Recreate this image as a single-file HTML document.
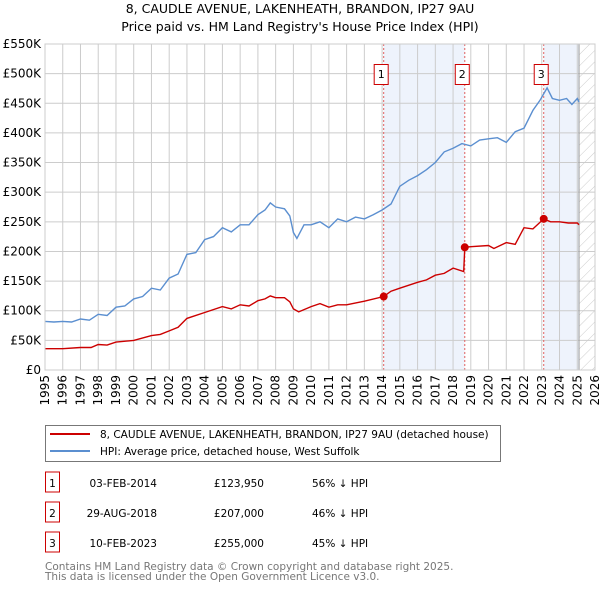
<!DOCTYPE html>
<html><head><meta charset="utf-8"><style>
body{margin:0;background:#fff;font-family:"DejaVu Sans","Liberation Sans",sans-serif;}
svg{display:block}
</style></head><body>
<svg id="c" width="600" height="590" xmlns="http://www.w3.org/2000/svg" font-family="DejaVu Sans, Liberation Sans, sans-serif">
<text x="300" y="13" text-anchor="middle" font-size="12.5">8, CAUDLE AVENUE, LAKENHEATH, BRANDON, IP27 9AU</text>
<text x="300" y="31" text-anchor="middle" font-size="12.5">Price paid vs. HM Land Registry's House Price Index (HPI)</text>
<g id="plot"></g>
<g>
<rect x="45.5" y="425.5" width="455" height="36" fill="#fff" stroke="#777"/>
<line x1="50" y1="434" x2="90" y2="434" stroke="#cc0000" stroke-width="2"/>
<text x="100" y="438" font-size="10.5">8, CAUDLE AVENUE, LAKENHEATH, BRANDON, IP27 9AU (detached house)</text>
<line x1="50" y1="451" x2="90" y2="451" stroke="#5b8fd0" stroke-width="2"/>
<text x="100" y="455" font-size="10.5">HPI: Average price, detached house, West Suffolk</text>
</g>
<g id="table" font-size="10.5"></g>
<text x="45" y="570" font-size="10.5" fill="#777">Contains HM Land Registry data © Crown copyright and database right 2025.</text>
<text x="45" y="580" font-size="10.5" fill="#777">This data is licensed under the Open Government Licence v3.0.</text>
</svg>
<script>
const hpiYears=[1995,1995.5,1996,1996.5,1997,1997.5,1998,1998.5,1999,1999.5,2000,2000.5,2001,2001.5,2002,2002.5,2003,2003.5,2004,2004.5,2005,2005.5,2006,2006.5,2007,2007.4,2007.7,2008,2008.5,2008.8,2009,2009.2,2009.6,2010,2010.5,2011,2011.5,2012,2012.5,2013,2013.5,2014,2014.5,2015,2015.5,2016,2016.5,2017,2017.5,2018,2018.5,2019,2019.5,2020,2020.5,2021,2021.5,2022,2022.5,2022.9,2023.3,2023.6,2024,2024.4,2024.7,2025,2025.1];
const hpiValues=[82,81,82,81,86,84,94,92,106,108,120,124,138,135,155,162,195,198,220,225,240,233,245,245,262,270,282,275,272,260,232,222,245,245,250,240,255,250,258,255,262,270,280,310,320,328,338,350,368,374,382,378,388,390,392,384,402,408,438,455,476,458,455,458,448,458,452];
const ppYears=[1995,1996,1997,1997.6,1998,1998.5,1999,2000,2001,2001.5,2002,2002.5,2003,2004,2005,2005.5,2006,2006.5,2007,2007.4,2007.7,2008,2008.5,2008.8,2009,2009.3,2009.7,2010,2010.5,2011,2011.5,2012,2013,2014.09,2014.5,2015,2016,2016.5,2017,2017.5,2018,2018.6,2018.66,2019,2020,2020.3,2021,2021.5,2022,2022.5,2023.11,2023.5,2024,2024.5,2025,2025.1];
const ppValues=[36,36,38,38,43,42,47,50,58,60,66,72,87,97,107,103,110,108,117,120,125,122,122,115,103,98,103,107,112,106,110,110,116,124,133,138,148,152,160,163,172,166,207,208,210,205,215,212,240,238,255,250,250,248,248,245];
const sales=[{n:"1",t:2014.09,v:123.95,d:"03-FEB-2014",p:"£123,950",h:"56% ↓ HPI"},{n:"2",t:2018.66,v:207,d:"29-AUG-2018",p:"£207,000",h:"46% ↓ HPI"},{n:"3",t:2023.11,v:255,d:"10-FEB-2023",p:"£255,000",h:"45% ↓ HPI"}];
const yTicks=[0,50,100,150,200,250,300,350,400,450,500,550];
const xTicks=[1995,1996,1997,1998,1999,2000,2001,2002,2003,2004,2005,2006,2007,2008,2009,2010,2011,2012,2013,2014,2015,2016,2017,2018,2019,2020,2021,2022,2023,2024,2025,2026];
const X0=45,X1=595,Y0=370,Y1=44;
const xs=t=>X0+(t-1995)/(2026-1995)*(X1-X0);
const ys=v=>Y0-v/550*(Y0-Y1);
const NS="http://www.w3.org/2000/svg";
const plot=document.getElementById('plot');
function mk(tag,attrs,parent){const e=document.createElementNS(NS,tag);for(const k in attrs)e.setAttribute(k,attrs[k]);(parent||plot).appendChild(e);return e;}
const s1=mk('rect',{x:xs(2014.09),y:Y1,width:xs(2018.66)-xs(2014.09),height:Y0-Y1,fill:'#eef3fc'});


const s2=mk('rect',{x:xs(2023.11),y:Y1,width:xs(2025.1)-xs(2023.11),height:Y0-Y1,fill:'#eef3fc'});


const defs=mk('defs',{});
const pat=mk('pattern',{id:'h',width:8,height:8,patternUnits:'userSpaceOnUse',patternTransform:'rotate(45)'},defs);
mk('line',{x1:0,y1:0,x2:0,y2:8,stroke:'#ccc','stroke-width':1},pat);
const hr=mk('rect',{x:xs(2025.1),y:Y1,width:X1-xs(2025.1),height:Y0-Y1,fill:'url(#h)'});


yTicks.forEach(v=>{
 mk('line',{x1:X0,x2:X1,y1:ys(v),y2:ys(v),stroke:'#ccc'});
 const t=mk('text',{x:X0-4,y:ys(v)+4,'text-anchor':'end','font-size':12});t.textContent=(v===0?'£0':'£'+v+'K');
 
 
});
xTicks.forEach(y=>{
 mk('line',{x1:xs(y),x2:xs(y),y1:Y1,y2:Y0,stroke:'#ccc'});
 const t=mk('text',{transform:`translate(${xs(y)+4},${Y0+5}) rotate(-90)`,'text-anchor':'end','font-size':12});t.textContent=y;
 
 
});
mk('line',{x1:xs(2025.1),x2:xs(2025.1),y1:Y1,y2:Y0,stroke:'#999'});
sales.forEach(s=>{
 const l=mk('line',{x1:xs(s.t),x2:xs(s.t),y1:Y1,y2:Y0,stroke:'#e06060','stroke-dasharray':'2,2'});
 
 
});
function path(xsArr,vs,col,name){
 const d=xsArr.map((t,i)=>(i?'L':'M')+xs(t).toFixed(1)+','+ys(vs[i]).toFixed(1)).join('');
 const p=mk('path',{d:d,fill:'none',stroke:col,'stroke-width':1.4});
 
 
}
path(hpiYears,hpiValues,'#5b8fd0','hpi-line');
path(ppYears,ppValues,'#cc0000','price-paid-line');
sales.forEach(s=>{
 const c=mk('circle',{cx:xs(s.t),cy:ys(s.v),r:4,fill:'#cc0000'});
 
 
 const g=mk('g',{});
 
 
 mk('rect',{x:xs(s.t)-9.5,y:64.5,width:14,height:20,fill:'#fff',stroke:'#cc0000'},g);
 const t=mk('text',{x:xs(s.t)-2.5,y:78,'text-anchor':'middle','font-size':11},g);t.textContent=s.n;
});
mk('rect',{x:X0,y:Y1,width:X1-X0,height:Y0-Y1,fill:'none',stroke:'#ccc'});
const tb=document.getElementById('table');
sales.forEach((s,i)=>{
 const y=483+i*30;
 const g=mk('g',{},tb);
 
 
 mk('rect',{x:45.5,y:y-11,width:14,height:20,fill:'#fff',stroke:'#cc0000'},g);
 let t=mk('text',{x:52.5,y:y+4,'text-anchor':'middle'},g);t.textContent=s.n;
 t=mk('text',{x:157,y:y+4,'text-anchor':'end'},g);t.textContent=s.d;
 t=mk('text',{x:264,y:y+4,'text-anchor':'end'},g);t.textContent=s.p;
 t=mk('text',{x:312,y:y+4},g);t.textContent=s.h;
});
</script>
</body></html>
